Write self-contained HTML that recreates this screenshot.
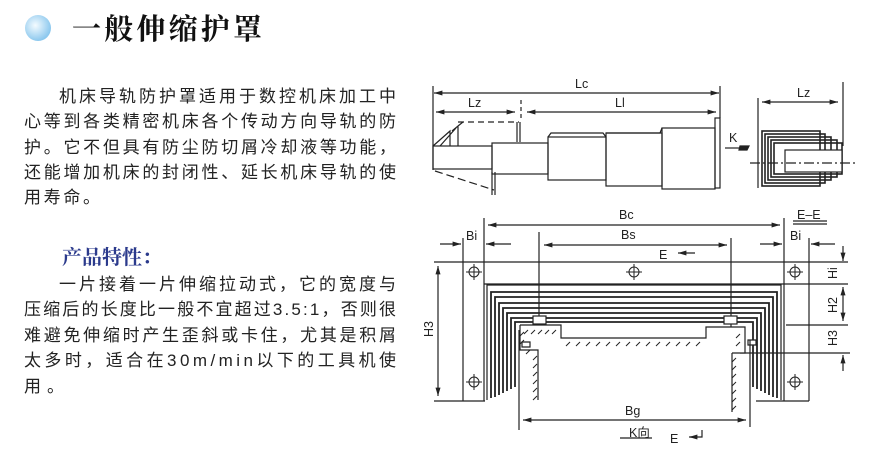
<!DOCTYPE html>
<html><head><meta charset="utf-8"><style>
html,body{margin:0;padding:0;background:#fff;}
svg{display:block;}
.t{font-family:"Liberation Sans","Noto Sans CJK SC",sans-serif;font-size:17px;fill:#222;}
.l{font-family:"Liberation Sans",sans-serif;font-size:12.5px;fill:#222;}
</style></head><body>
<svg width="880" height="458" viewBox="0 0 880 458" xmlns="http://www.w3.org/2000/svg">
<defs>
<radialGradient id="g" cx="0.4" cy="0.4" r="0.6"><stop offset="0" stop-color="#f4fbff"/><stop offset="1" stop-color="#8cc8ee"/></radialGradient>
<marker id="a" viewBox="0 0 10 10" refX="10" refY="5" markerWidth="7" markerHeight="7" orient="auto-start-reverse"><path d="M0,2 L10,5 L0,8 z" fill="#222"/></marker>
</defs>
<circle cx="38" cy="28" r="13" fill="url(#g)"/>
<text x="72" y="39" font-family="'Liberation Serif','Noto Serif CJK SC',serif" font-weight="bold" font-size="29" fill="#111" textLength="190" lengthAdjust="spacing">一般伸缩护罩</text>
<g class="t">
<text x="59" y="102" textLength="337" lengthAdjust="spacing">机床导轨防护罩适用于数控机床加工中</text>
<text x="24" y="127" textLength="372" lengthAdjust="spacing">心等到各类精密机床各个传动方向导轨的防</text>
<text x="24" y="153" textLength="372" lengthAdjust="spacing">护。它不但具有防尘防切屑冷却液等功能，</text>
<text x="24" y="178" textLength="372" lengthAdjust="spacing">还能增加机床的封闭性、延长机床导轨的使</text>
<text x="24" y="203" textLength="76" lengthAdjust="spacing">用寿命。</text>
<text x="59" y="290" textLength="337" lengthAdjust="spacing">一片接着一片伸缩拉动式，它的宽度与</text>
<text x="24" y="315" textLength="372" lengthAdjust="spacing">压缩后的长度比一般不宜超过3.5:1，否则很</text>
<text x="24" y="341" textLength="372" lengthAdjust="spacing">难避免伸缩时产生歪斜或卡住，尤其是积屑</text>
<text x="24" y="366" textLength="372" lengthAdjust="spacing">太多时，适合在30m/min以下的工具机使</text>
<text x="24" y="392" textLength="40" lengthAdjust="spacing">用。</text>
</g>
<text x="62" y="264" font-family="'Liberation Serif','Noto Serif CJK SC',serif" font-weight="bold" font-size="20" fill="#2b3a8c">产品特性：</text>

<g stroke="#222" stroke-width="1.2" fill="none">
<line x1="433" y1="86" x2="433" y2="170"/><line x1="720" y1="86" x2="720" y2="118"/>
<line x1="434" y1="93" x2="719" y2="93" marker-start="url(#a)" marker-end="url(#a)"/>
<line x1="436" y1="112" x2="515" y2="112" marker-start="url(#a)" marker-end="url(#a)"/>
<line x1="527" y1="112" x2="716" y2="112" marker-start="url(#a)" marker-end="url(#a)"/>
<line x1="521" y1="100" x2="521" y2="120" stroke-dasharray="4,3"/>
<line x1="458" y1="122" x2="519" y2="122" stroke-dasharray="6,4"/>
<path d="M520,122 V142 M517,122 V142"/>
<path d="M433,146 L450,131 V146 M440,146 L456,128 M452,131 L458,126 V146 M458,126 L463,122"/>
<rect x="433" y="146" width="59" height="23"/>
<line x1="435" y1="171" x2="494" y2="190" stroke-dasharray="8,4"/>
<path d="M492,172 V195 M495,172 V195"/>
<rect x="492" y="143" width="56" height="31"/>
<path d="M548,137 L551,133 H603 L606,137"/>
<rect x="548" y="137" width="58" height="43"/>
<path d="M606,133 H660 L662,128"/>
<rect x="606" y="133" width="56" height="53"/>
<rect x="662" y="128" width="53" height="61"/>
<rect x="715" y="118" width="5" height="70"/>
<line x1="725" y1="148" x2="740" y2="148"/>
<path d="M740,146 H749 L747,150 H739 z" fill="#222"/>
<line x1="758" y1="98" x2="758" y2="188"/><line x1="843" y1="82" x2="843" y2="146"/>
<line x1="762" y1="102" x2="838" y2="102" marker-start="url(#a)" marker-end="url(#a)"/>
<rect x="762" y="131" width="58" height="55" stroke-width="1.6"/>
<rect x="765" y="134" width="60" height="49" stroke-width="1.6"/>
<rect x="768" y="137" width="63" height="43" stroke-width="1.6"/>
<rect x="771" y="140" width="66" height="37" stroke-width="1.6"/>
<rect x="774" y="143" width="68" height="31" stroke-width="1.6"/>
<rect x="785" y="150" width="57" height="22" fill="#fff"/>
<line x1="750" y1="163" x2="856" y2="163" stroke-dasharray="10,3,2,3"/>

<line x1="484" y1="218" x2="484" y2="401"/><line x1="784" y1="218" x2="784" y2="401"/>
<line x1="488" y1="225" x2="780" y2="225" marker-start="url(#a)" marker-end="url(#a)"/>
<line x1="463" y1="238" x2="463" y2="401"/><line x1="809" y1="238" x2="809" y2="401"/>
<line x1="440" y1="244" x2="461" y2="244" marker-end="url(#a)"/>
<line x1="511" y1="244" x2="486" y2="244" marker-end="url(#a)"/>
<line x1="760" y1="244" x2="782" y2="244" marker-end="url(#a)"/>
<line x1="835" y1="244" x2="811" y2="244" marker-end="url(#a)"/>
<line x1="539" y1="232" x2="539" y2="325"/><line x1="731" y1="238" x2="731" y2="330"/>
<line x1="544" y1="245" x2="727" y2="245" marker-start="url(#a)" marker-end="url(#a)"/>
<line x1="695" y1="253" x2="678" y2="253" marker-end="url(#a)"/>
<line x1="434" y1="262" x2="848" y2="262"/>
<line x1="484" y1="284" x2="848" y2="284"/>
<line x1="786" y1="325" x2="848" y2="325"/>
<line x1="740" y1="353" x2="850" y2="353"/>
<line x1="434" y1="401" x2="485" y2="401"/>
<line x1="756" y1="401" x2="809" y2="401"/>
<line x1="438" y1="266" x2="438" y2="396" marker-start="url(#a)" marker-end="url(#a)"/>
<line x1="843" y1="246" x2="843" y2="261" marker-end="url(#a)"/>
<line x1="843" y1="287" x2="843" y2="321" marker-start="url(#a)" marker-end="url(#a)"/>
<line x1="843" y1="371" x2="843" y2="355" marker-end="url(#a)"/>
<g stroke-width="1">
<circle cx="474" cy="272" r="5"/><path d="M474,264 V280 M466,272 H482"/>
<circle cx="634" cy="272" r="5"/><path d="M634,264 V280 M626,272 H642"/>
<circle cx="795" cy="272" r="5"/><path d="M795,264 V280 M787,272 H803"/>
<circle cx="474" cy="382" r="5"/><path d="M474,374 V390 M466,382 H482"/>
<circle cx="795" cy="382" r="5"/><path d="M795,374 V390 M787,382 H803"/>
</g>
<path d="M487,400 V285 H781 V400"/>
<path d="M491,398 V292 H777 V398" stroke-width="1.8"/>
<path d="M495,397 V297 H773 V397" stroke-width="1.8"/>
<path d="M499,395 V303 H769 V395" stroke-width="1.8"/>
<path d="M503,393 V308 H765 V393" stroke-width="1.8"/>
<path d="M507,391 V313 H761 V391" stroke-width="1.8"/>
<path d="M511,389 V318 H757 V389" stroke-width="1.8"/>
<path d="M515,387 V322 H753 V387" stroke-width="1.8"/>
<rect x="533" y="316" width="13" height="8" fill="#fff"/>
<rect x="724" y="316" width="13" height="8" fill="#fff"/>
<path d="M520,325 H561 V338 H706 V327 H745 V353 H732 M520,325 V350 H538 V400" fill="#fff"/>
<path d="M732,353 V412" />
<path d="M522,342 h8 v5 h-8z" fill="#fff"/>
<path d="M748,340 h8 v5 h-8z" fill="#fff"/>
<g stroke-width="1">
<path d="M524,332 l-4,4 M524,340 l-4,4 M530,350 l-4,4 M537,356 l-4,4 M537,364 l-4,4 M537,372 l-4,4 M537,380 l-4,4 M537,388 l-4,4 M537,396 l-4,4"/>
<path d="M528,330 l-4,4 M535,330 l-4,4 M542,330 l-4,4 M549,330 l-4,4 M556,330 l-4,4 M570,342 l-4,4 M580,342 l-4,4 M590,342 l-4,4 M600,342 l-4,4 M610,342 l-4,4 M620,342 l-4,4 M630,342 l-4,4 M640,342 l-4,4 M650,342 l-4,4 M660,342 l-4,4 M670,342 l-4,4 M680,342 l-4,4 M690,342 l-4,4 M700,342 l-4,4"/>
<path d="M740,334 l-4,4 M740,342 l-4,4 M736,358 l-4,4 M736,366 l-4,4 M736,374 l-4,4 M736,382 l-4,4 M736,390 l-4,4 M736,398 l-4,4 M736,406 l-4,4"/>
</g>
<line x1="519" y1="330" x2="519" y2="430"/><line x1="750" y1="340" x2="750" y2="427"/>
<line x1="523" y1="420" x2="746" y2="420" marker-start="url(#a)" marker-end="url(#a)"/>
<line x1="620" y1="438" x2="652" y2="438"/>
<line x1="793" y1="221" x2="827" y2="221"/><line x1="793" y1="224" x2="827" y2="224"/>
<path d="M702,430 V437 H690" /><line x1="695" y1="437" x2="689" y2="437" marker-end="url(#a)"/>
</g>
<g class="l">
<text x="575" y="88">Lc</text><text x="468" y="107">Lz</text><text x="615" y="107">Ll</text>
<text x="729" y="142">K</text><text x="797" y="97">Lz</text>
<text x="619" y="219">Bc</text><text x="466" y="240">Bi</text><text x="621" y="239">Bs</text>
<text x="659" y="259">E</text><text x="797" y="219">E–E</text><text x="790" y="240">Bi</text>
<text x="625" y="415">Bg</text><text x="629" y="437">K向</text><text x="670" y="443">E</text>
<text transform="translate(433,337) rotate(-90)">H3</text>
<text transform="translate(837,279) rotate(-90)">Hi</text>
<text transform="translate(837,313) rotate(-90)">H2</text>
<text transform="translate(837,346) rotate(-90)">H3</text>
</g>
</svg>
</body></html>
